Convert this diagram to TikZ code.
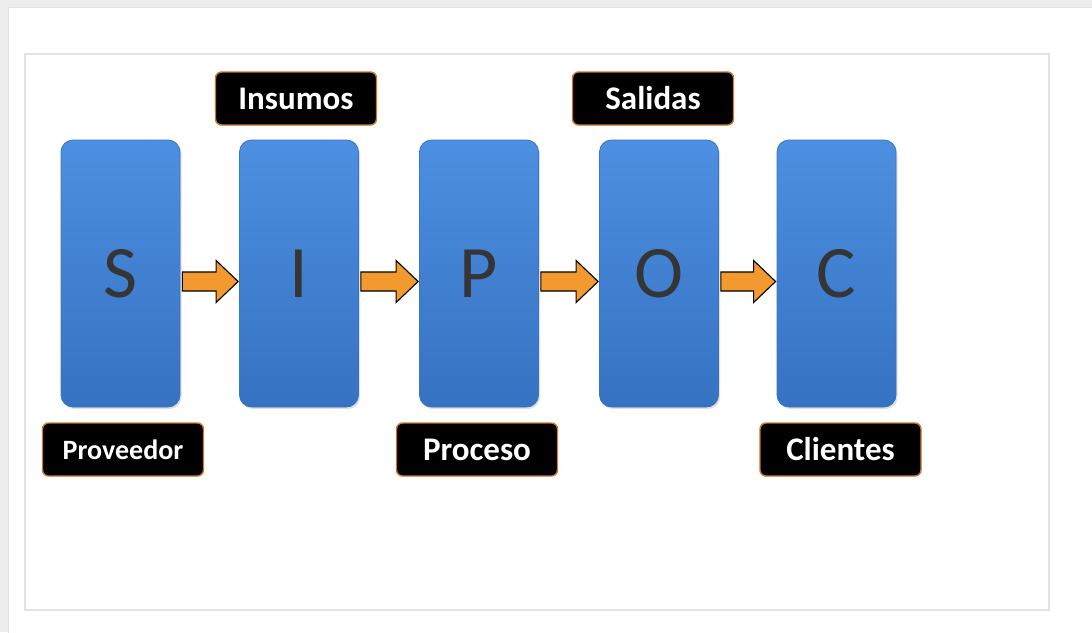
\documentclass[tikz,border=0pt]{standalone}
\usepackage{fontspec}
\setmainfont{Carlito}
\usetikzlibrary{calc,shadows}

\definecolor{pagegray}{HTML}{EDEDED}
\definecolor{framegray}{HTML}{E2E2E2}
\definecolor{boxtop}{HTML}{4D8FE0}
\definecolor{boxbot}{HTML}{3672C2}
\definecolor{boxedge}{HTML}{3A74C6}
\definecolor{arroworange}{HTML}{F39A2E}
\definecolor{tagedge}{HTML}{C97A2C}
\definecolor{letterink}{HTML}{353535}

\tikzset{
  stage/.style={rectangle, rounded corners=12pt, minimum width=119pt, minimum height=267pt,
    top color=boxtop, bottom color=boxbot, draw=boxedge, line width=0.8pt,
    drop shadow={shadow xshift=1.5pt, shadow yshift=-2pt, opacity=0.25},
    font=\fontsize{74}{74}\selectfont, text=letterink, inner sep=0pt},
  tag/.style={rectangle, rounded corners=6pt, minimum width=161pt, minimum height=53pt,
    fill=black, draw=tagedge, line width=1.4pt, text=white, inner sep=0pt,
    font=\fontsize{33}{33}\selectfont\bfseries},
  flow/.style={fill=arroworange, draw=black, line width=1.1pt, line join=miter},
}

% block arrow from the east side of one stage to the west side of the next
\newcommand{\flowarrow}[2]{%
  \draw[flow]
    ($(#1.east)+(2,8)$) coordinate (#1-tail)
    let \p1=(#1-tail), \p2=(#2.west) in
    (\x1,\y1+9.5) -- (\x2-23,\y1+9.5) -- (\x2-23,\y1+21) -- (\x2-1,\y1)
    -- (\x2-23,\y1-21) -- (\x2-23,\y1-9.5) -- (\x1,\y1-9.5) -- cycle;}

\begin{document}
\begin{tikzpicture}[x=1pt,y=-1pt]
  \useasboundingbox (0,0) rectangle (1092,632);
  % page background and frames
  \fill[pagegray] (0,0) rectangle (1092,632);
  \fill[white] (8,7) rectangle (1100,640);
  \draw[framegray, line width=0.8pt] (8,7) -- (1100,7);
  \draw[framegray, line width=0.8pt] (8,7) -- (8,640);
  \draw[framegray, line width=2pt] (25,54) rectangle (1049,610);

  % the five SIPOC stages
  \node[stage] (s) at (120.5,273.5) {S};
  \node[stage] (i) at (299,273.5) {I};
  \node[stage] (p) at (479,273.5) {P};
  \node[stage] (o) at (659,273.5) {O};
  \node[stage] (c) at (836.5,273.5) {C};

  % arrows between stages
  \flowarrow{s}{i}
  \flowarrow{i}{p}
  \flowarrow{p}{o}
  \flowarrow{o}{c}

  % labels
  \node[tag] (insumos) at (296,98.5) {Insumos};
  \node[tag] (salidas) at (653,98.5) {Salidas};
  \node[tag, font=\fontsize{28}{28}\selectfont\bfseries] (proveedor) at (123,449.5) {Proveedor};
  \node[tag] (proceso) at (477,449.5) {Proceso};
  \node[tag] (clientes) at (840.5,449.5) {Clientes};
\end{tikzpicture}
\end{document}
